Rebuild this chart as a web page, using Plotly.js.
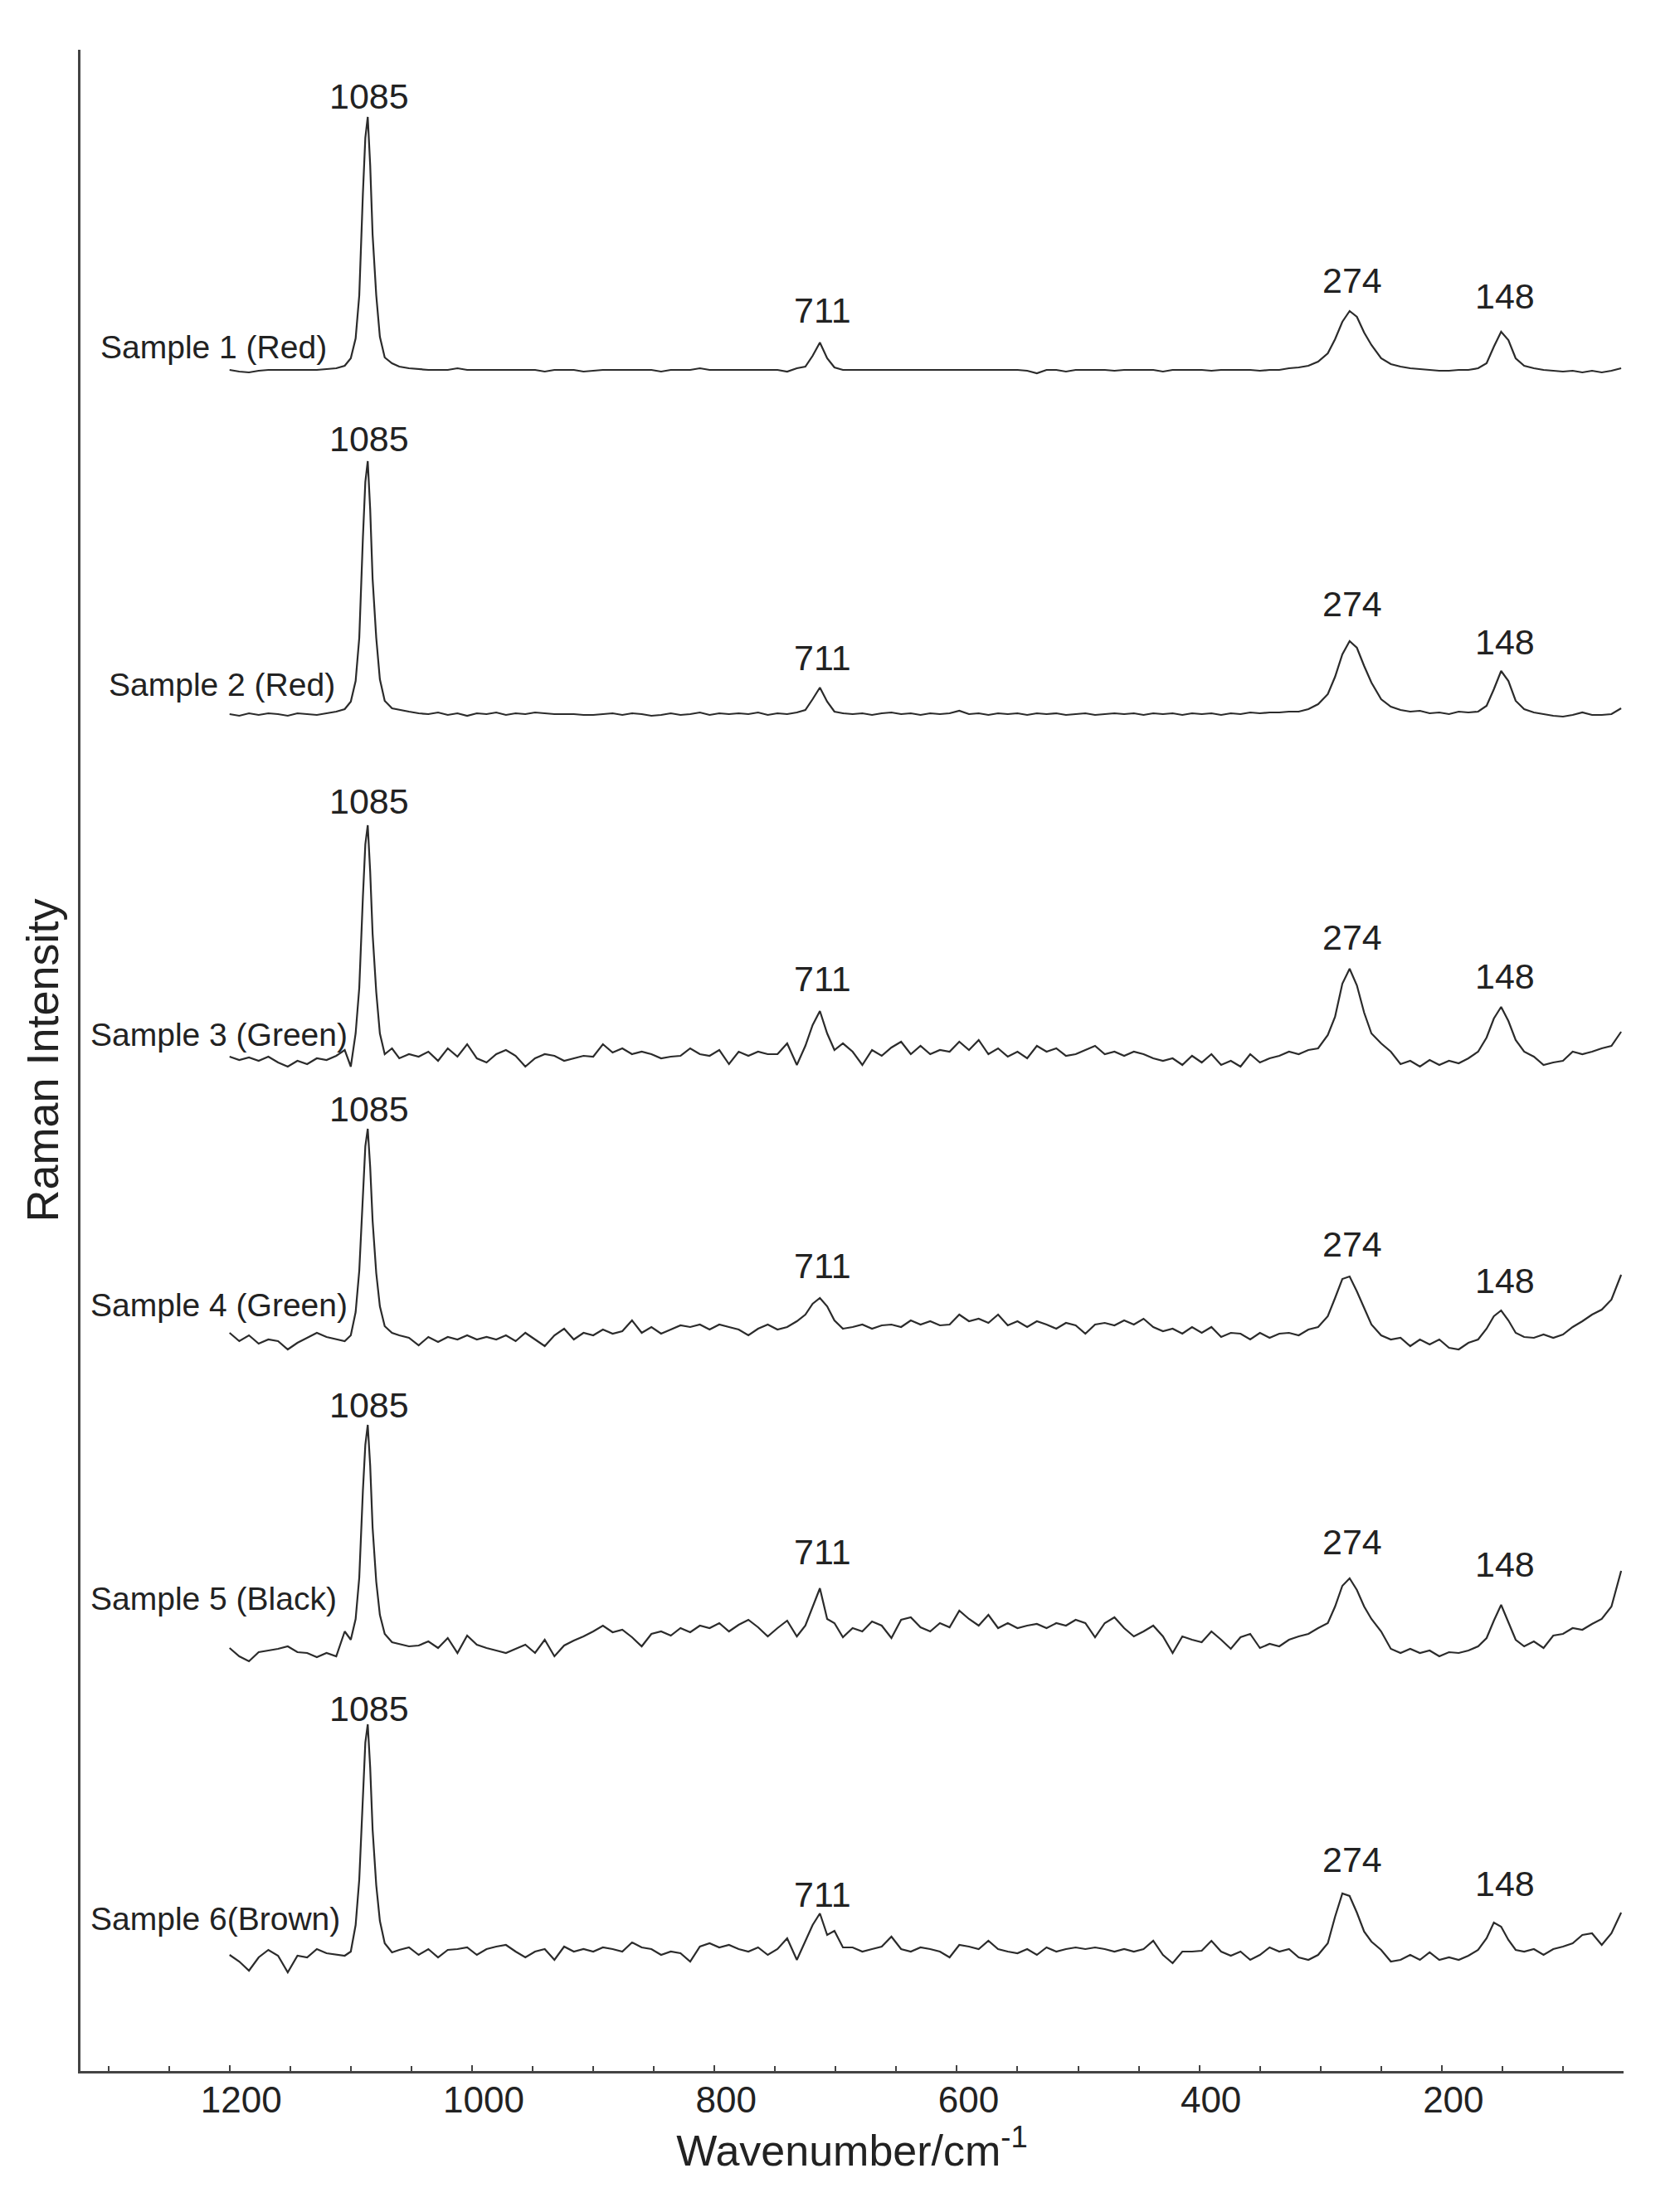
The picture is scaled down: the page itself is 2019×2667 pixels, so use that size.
<!DOCTYPE html>
<html>
<head>
<meta charset="utf-8">
<script src="https://cdn.plot.ly/plotly-3.0.1.min.js"></script>
<style>html,body{margin:0;padding:0;background:#fff;}#chart{width:2019px;height:2667px;}</style>
</head>
<body>
<div id="chart"></div>
<script>
// Shared wavenumber axis (cm-1)
const wavenumber = [
  1200,1192,1184,1176,1168,1160,1152,1144,1136,1128,1120,1112,
  1105,1100,1096,1093,1090,1088,1086,1084,1082,1079,1076,1072,1066,1060,
  1052,1044,1036,1028,1020,1012,1004,996,988,980,972,964,956,948,940,932,924,916,908,900,
  892,884,876,868,860,852,844,836,828,820,812,804,796,788,780,772,764,756,748,740,732,
  725,719,713,707,701,694,
  686,678,670,662,654,646,638,630,622,614,606,598,590,582,574,566,558,550,542,534,
  526,518,510,502,494,486,478,470,462,454,446,438,430,422,414,406,398,390,382,374,
  366,358,350,342,334,326,318,310,302,294,
  288,282,276,270,264,258,
  250,242,234,226,218,210,202,194,186,178,170,
  163,157,151,145,139,132,
  124,116,108,100,92,84,76,68,60,52
];

// Raman intensity (arbitrary units, relative to each spectrum's baseline)
const sample1 = [
  0,-2,-3,-1,0,0,0,0,0,0,1,2,
  5,14,38,90,213,280,305,247,163,90,40,15,8,4,
  2,1,0,0,0,2,0,0,0,0, 0,0,0,0,-2,0,0,0,-2,-1, 0,0,0,0,0,0,-2,0,0,0, 2,0,0,0,0,0,0,0,0,-2, 2,
  4,17,33,14,3,0,
  0,0,0,0,0,0,0,0,0,0, 0,0,0,0,0,0,0,0,-1,-4, 0,0,-2,0,0,0,0,-1,0,0, 0,0,-2,0,0,0,0,-1,0,0, 0,0,-1,0,0,2,3,5,10,20,
  37,58,71,64,45,30,
  14,7,4,2,1,0,-1,-1,0,0,2,
  8,28,46,36,14,5,
  2,0,-1,-2,-1,-3,-1,-3,-1,2
];
const sample2 = [
  0,-2,1,-1,1,0,-2,1,0,-1,1,3,
  6,15,40,92,213,280,305,247,163,92,42,16,7,5,
  3,1,0,2,-1,1,-2,1,0,2, -1,1,0,2,1,0,0,0,-1,-1, 0,1,-1,1,0,-2,-1,1,-1,0, 2,-1,1,0,1,0,2,-1,1,0, 2,
  5,18,32,15,3,1,
  0,1,-1,1,2,0,1,-1,1,0, 1,4,0,1,-1,1,0,1,-1,1, 0,1,-1,0,1,-1,0,1,0,1, -1,1,0,1,-1,1,0,1,-1,1, 0,2,1,2,2,3,3,6,12,24,
  45,72,88,80,58,38,
  18,9,5,3,4,1,2,0,3,2,3,
  10,30,52,40,16,6,
  2,0,-2,-3,-1,2,-1,-1,0,7
];
const sample3 = [
  2,-2,1,-3,2,-5,-10,-3,-7,0,-2,3,
  10,-10,30,85,195,258,281,225,150,80,30,5,12,0,
  5,2,8,-3,12,2,17,0,-5,5, 10,3,-10,0,5,3,-3,0,3,2, 17,7,12,5,8,5,0,2,3,12, 5,3,10,-7,8,3,8,5,5,18, -8,
  15,40,57,30,10,18,
  8,-8,10,3,13,20,5,15,5,10, 8,20,10,22,5,12,2,8,0,15, 8,12,3,5,10,15,5,8,3,8, 5,0,-3,0,-8,3,-5,5,-8,-3, -10,5,-5,0,3,8,5,10,12,28,
  50,90,108,88,55,30,
  18,8,-7,-3,-10,-2,-8,-3,-6,0,8,
  25,48,62,45,22,8,
  2,-8,-5,-3,8,5,8,12,15,32
];
const sample4 = [
  0,-10,-3,-13,-8,-10,-20,-12,-6,0,-5,-8,
  -10,-3,25,75,170,225,246,200,135,72,32,8,0,-3,
  -6,-15,-5,-11,-5,-8,-3,-8,-5,-8, -3,-10,0,-8,-16,-3,5,-8,0,-3, 4,-1,2,15,0,7,-1,4,9,7, 10,4,10,7,4,-3,5,10,4,7, 14,
  22,35,42,32,15,5,
  7,10,5,9,10,7,15,10,14,9, 10,22,14,17,12,22,9,14,7,14, 10,5,12,9,-1,10,12,9,15,10, 17,7,2,5,-1,7,0,7,-5,0, -1,-8,0,-6,-1,0,-3,4,7,20,
  42,65,68,50,30,10,
  -3,-8,-6,-16,-8,-14,-8,-18,-20,-12,-8,
  5,20,27,15,0,-5,
  -6,-2,-6,-2,7,14,22,28,40,70
];
const sample5 = [
  -5,-15,-21,-10,-8,-6,-3,-10,-11,-16,-11,-15,
  15,5,30,80,185,240,264,215,140,75,35,12,2,0,
  -3,-2,3,-5,7,-11,10,-1,-5,-8, -11,-6,-1,-11,5,-15,-2,4,9,15, 22,14,17,8,-3,12,15,10,19,14, 22,19,25,15,23,29,20,9,19,28, 9,
  22,45,67,30,25,8,
  19,15,27,22,7,29,32,20,15,25, 20,40,30,22,35,19,25,19,22,24, 19,25,22,29,25,8,25,32,19,9, 15,22,9,-11,9,5,2,15,5,-6, 8,12,-5,0,-3,5,9,12,19,25,
  45,70,79,65,45,30,
  15,-6,-11,-6,-11,-8,-15,-10,-11,-8,-3,
  7,28,47,25,5,-3,
  3,-5,10,12,19,17,24,30,45,88
];
const sample6 = [
  -6,-14,-25,-9,0,-7,-27,-7,-9,1,-4,-6,
  -7,-2,30,85,190,250,272,220,145,78,35,8,-3,0,
  3,-6,1,-9,0,1,3,-6,1,4, 6,-2,-9,-2,1,-12,4,-2,1,-2, 3,1,-2,9,3,1,-6,-2,-4,-14, 4,8,3,6,1,-2,3,-6,1,14, -12,
  10,30,44,18,23,3,
  3,-2,1,4,16,1,-2,3,1,-2, -9,6,4,1,11,1,-2,-4,1,-6, 3,-2,1,3,1,3,1,-2,1,-2, 1,11,-6,-16,-2,-2,-1,11,-2,-7, -2,-12,-6,3,-2,1,-9,-12,-6,8,
  40,68,65,45,22,10,
  0,-14,-12,-6,-12,-3,-12,-9,-12,-7,0,
  14,33,28,12,0,-2,
  1,-6,1,4,8,18,20,6,20,45
];

const sampleNames = ['Sample 1 (Red)','Sample 2 (Red)','Sample 3 (Green)','Sample 4 (Green)','Sample 5 (Black)','Sample 6(Brown)'];
const peakLabels = ['1085','711','274','148'];
const peakPositions = [1085, 711, 274, 148];

// ---- layout / stacking (not data) ----
const series = [sample1, sample2, sample3, sample4, sample5, sample6];
const stackOffset = [2051, 1636, 1221, 890, 515, 146];
const peakLabelHeight = [[330,72,108,89],[332,68,133,87],[310,96,146,99],[270,81,107,63],[288,111,123,96],[291,67,109,80]];
const nameLabelX = [1308,1301,1316,1316,1316,1316];
const nameLabelHeight = [28,36,29,34,55,38];

const FONT = 'Liberation Sans, Arial, sans-serif';
const INK = '#222222';

const traces = series.map((s, i) => ({
  type: 'scatter', mode: 'lines', name: sampleNames[i],
  x: wavenumber,
  y: s.map(v => v + stackOffset[i]),
  line: {color: '#2b2b2b', width: 2.2},
  hoverinfo: 'skip'
}));

const annotations = [];
series.forEach((s, i) => {
  annotations.push({
    x: nameLabelX[i], y: stackOffset[i] + nameLabelHeight[i], xref: 'x', yref: 'y',
    text: sampleNames[i], showarrow: false, xanchor: 'left', yanchor: 'middle',
    font: {family: FONT, size: 39, color: INK}
  });
  peakLabels.forEach((lab, j) => {
    annotations.push({
      x: peakPositions[j], y: stackOffset[i] + peakLabelHeight[i][j], xref: 'x', yref: 'y',
      text: lab, showarrow: false, xanchor: 'center', yanchor: 'middle',
      font: {family: FONT, size: 43, color: INK}
    });
  });
});

const layout = {
  width: 2019, height: 2667,
  paper_bgcolor: '#ffffff', plot_bgcolor: '#ffffff',
  showlegend: false,
  margin: {l: 97, r: 62, t: 60, b: 170},
  font: {family: FONT, color: INK},
  xaxis: {
    range: [1323, 50], showgrid: false, zeroline: false,
    showline: true, linecolor: '#444', linewidth: 3,
    ticks: 'inside', ticklen: 7, tickwidth: 2, tickcolor: '#444',
    tick0: 0, dtick: 200,
    minor: {dtick: 50, ticks: 'inside', ticklen: 6, tickwidth: 2, tickcolor: '#444', showgrid: false},
    tickfont: {family: FONT, size: 44, color: INK},
    ticklabelstandoff: -6,
    ticklabelshift: -14,
    title: {text: 'Wavenumber/cm<sup>-1</sup>', font: {family: FONT, size: 52, color: INK}, standoff: 14}
  },
  yaxis: {
    range: [0, 2437], showgrid: false, zeroline: false,
    showline: true, linecolor: '#444', linewidth: 3,
    ticks: '', showticklabels: false,
    title: {text: 'Raman Intensity', font: {family: FONT, size: 54, color: INK}, standoff: 7}
  },
  annotations: annotations
};

Plotly.newPlot('chart', traces, layout, {staticPlot: true, displayModeBar: false});
</script>
</body>
</html>
